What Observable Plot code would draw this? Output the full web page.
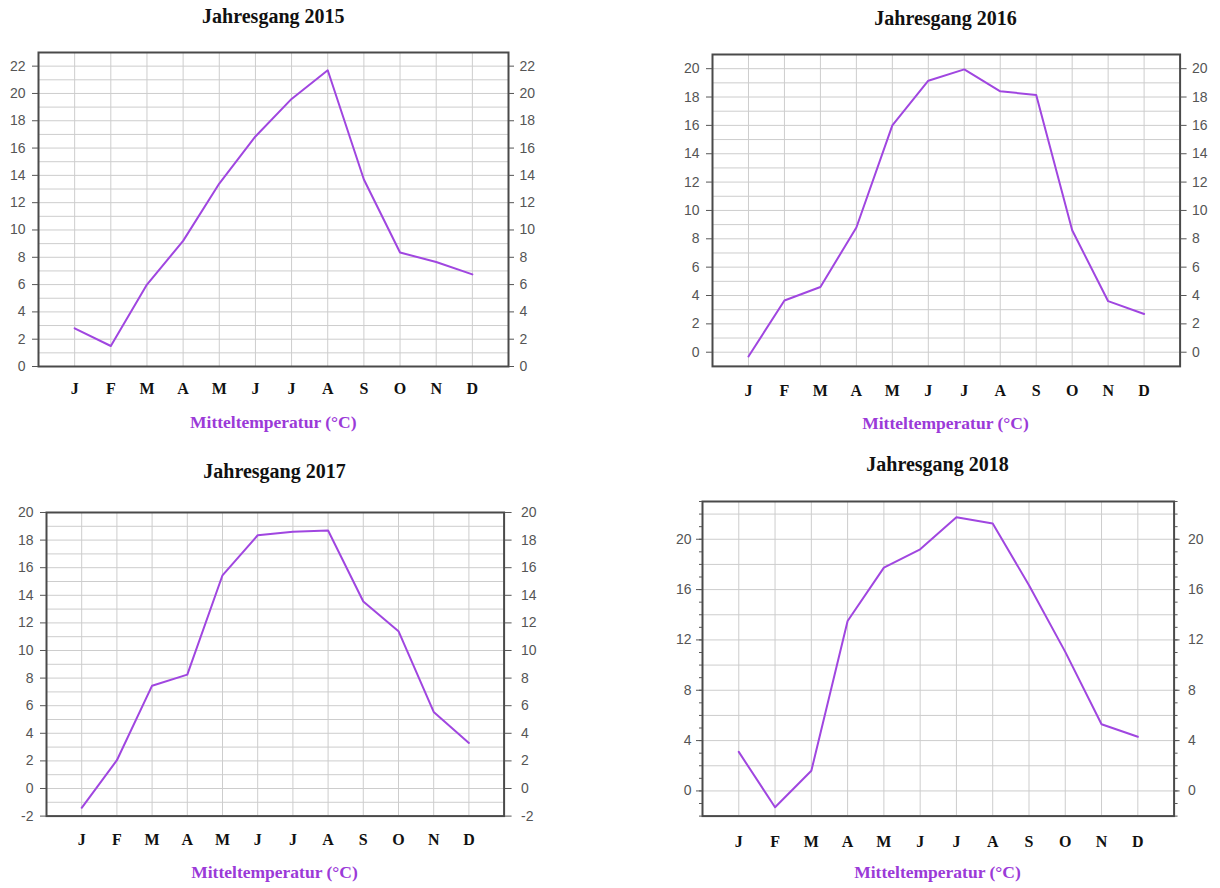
<!DOCTYPE html>
<html>
<head>
<meta charset="utf-8">
<script src="https://cdn.jsdelivr.net/npm/d3@7"></script>
<script src="https://cdn.jsdelivr.net/npm/@observablehq/plot@0.6"></script>
<style>
  body { margin: 0; background: #fff; }
  #wrap { position: relative; width: 1220px; height: 888px; overflow: hidden; background: #fff; }
  .title { position: absolute; width: 300px; text-align: center; font: bold 20px/20px 'Liberation Serif', 'Times New Roman', serif; color: #111; white-space: nowrap; }
  .xlab { position: absolute; width: 300px; text-align: center; font: bold 17.5px/17.5px 'Liberation Serif', 'Times New Roman', serif; color: #9b3ad8; white-space: nowrap; }
  .panel { position: absolute; }
</style>
</head>
<body>
<div id="wrap"></div>
<script>
// Month tick labels
const months = ["J", "F", "M", "A", "M", "J", "J", "A", "S", "O", "N", "D"];
// Monthly mean temperatures (°C)
const temp2015 = [2.8, 1.5, 6.0, 9.2, 13.4, 16.85, 19.6, 21.7, 13.7, 8.35, 7.65, 6.75];
const temp2016 = [-0.3, 3.65, 4.6, 8.8, 16.0, 19.15, 19.95, 18.4, 18.15, 8.6, 3.6, 2.7];
const temp2017 = [-1.4, 2.05, 7.45, 8.25, 15.45, 18.35, 18.6, 18.7, 13.55, 11.4, 5.55, 3.3];
const temp2018 = [3.1, -1.3, 1.6, 13.5, 17.75, 19.2, 21.75, 21.25, 16.35, 11.05, 5.3, 4.3];
const years = ["2015", "2016", "2017", "2018"];
const xLabel = "Mitteltemperatur (°C)";
const titlePrefix = "Jahresgang ";

const panels = [
  {year: years[0], data: temp2015, frame: {l: 38.3, r: 508.3, t: 51.5, b: 365.5}, domain: [0, 23],
   ticks: d3.range(0, 23, 2), grid: d3.range(0, 24, 1), minor: null,
   left: {size: 6, pad: 7}, right: {size: 5, pad: 6}, monthPad: 16, titleBase: 23, xlabBase: 429},
  {year: years[1], data: temp2016, frame: {l: 711.7, r: 1179.3, t: 54, b: 365.9}, domain: [-1, 21],
   ticks: d3.range(0, 21, 2), grid: d3.range(-1, 22, 1), minor: null,
   left: {size: 6, pad: 7}, right: {size: 6, pad: 6}, monthPad: 18.5, titleBase: 25, xlabBase: 430},
  {year: years[2], data: temp2017, frame: {l: 45.7, r: 503.3, t: 512.4, b: 816}, domain: [-2, 20],
   ticks: d3.range(-2, 21, 2), grid: d3.range(-2, 21, 1), minor: null,
   left: {size: 6, pad: 7}, right: {size: 7, pad: 10}, monthPad: 17.5, titleBase: 478, xlabBase: 879},
  {year: years[3], data: temp2018, frame: {l: 701.7, r: 1173.3, t: 501.2, b: 815.8}, domain: [-2, 23],
   ticks: d3.range(0, 21, 4), grid: d3.range(-2, 24, 2), minor: d3.range(-2, 24, 1),
   left: {size: 6, pad: 5}, right: {size: 5, pad: 9}, monthPad: 19.5, titleBase: 471, xlabBase: 879}
];

const wrap = document.getElementById("wrap");
const mL = 40, mR = 48, mT = 10, mB = 50;
const gridColor = "#cdcdcd";
const axisColor = "#555";
const lineColor = "#a046e0";
const numFmt = (d) => String(d); // hyphen-minus like the reference

for (const p of panels) {
  const rows = p.data.map((t, i) => ({m: i + 1, t}));
  const f = p.frame;
  const width = (f.r - f.l) + mL + mR;
  const height = (f.b - f.t) + mT + mB;
  const marks = [
    Plot.gridY(p.grid, {stroke: gridColor, strokeOpacity: 1, strokeWidth: 1}),
    Plot.gridX(d3.range(1, 13), {stroke: gridColor, strokeOpacity: 1, strokeWidth: 1}),
    Plot.line(rows, {x: "m", y: "t", stroke: lineColor, strokeWidth: 2}),
    Plot.frame({stroke: "#4a4a4a", strokeWidth: 2}),
    Plot.axisY(p.ticks, {anchor: "left", tickSize: p.left.size, tickPadding: p.left.pad, label: null, color: axisColor, fontSize: 14, tickFormat: numFmt}),
    Plot.axisY(p.ticks, {anchor: "right", tickSize: p.right.size, tickPadding: p.right.pad, label: null, color: axisColor, fontSize: 14, tickFormat: numFmt}),
    Plot.axisX(d3.range(1, 13), {anchor: "bottom", tickSize: 0, tickPadding: p.monthPad, label: null,
      tickFormat: (d) => months[d - 1], fontFamily: "'Liberation Serif', 'Times New Roman', serif",
      fontWeight: "bold", fontSize: 16, color: "#111"})
  ];
  if (p.minor) {
    marks.push(Plot.axisY(p.minor, {anchor: "left", tickSize: 3, tickFormat: () => "", label: null, color: axisColor}));
    marks.push(Plot.axisY(p.minor, {anchor: "right", tickSize: 3, tickFormat: () => "", label: null, color: axisColor}));
  }
  const svg = Plot.plot({
    width, height,
    marginLeft: mL, marginRight: mR, marginTop: mT, marginBottom: mB,
    x: {domain: [0, 13]},
    y: {domain: p.domain},
    style: {fontFamily: "'Liberation Sans', Arial, sans-serif", fontSize: "14px", background: "transparent", overflow: "visible"},
    marks
  });
  svg.classList.add("panel");
  svg.style.left = (f.l - mL) + "px";
  svg.style.top = (f.t - mT) + "px";
  wrap.appendChild(svg);

  const cx = (f.l + f.r) / 2;
  const t = document.createElement("div");
  t.className = "title";
  t.textContent = titlePrefix + p.year;
  t.style.left = (cx - 150) + "px";
  t.style.top = (p.titleBase - 0.8375 * 20) + "px";
  wrap.appendChild(t);

  const xl = document.createElement("div");
  xl.className = "xlab";
  xl.textContent = xLabel;
  xl.style.left = (cx - 150) + "px";
  xl.style.top = (p.xlabBase - 0.8375 * 17.5) + "px";
  wrap.appendChild(xl);
}
</script>
</body>
</html>
